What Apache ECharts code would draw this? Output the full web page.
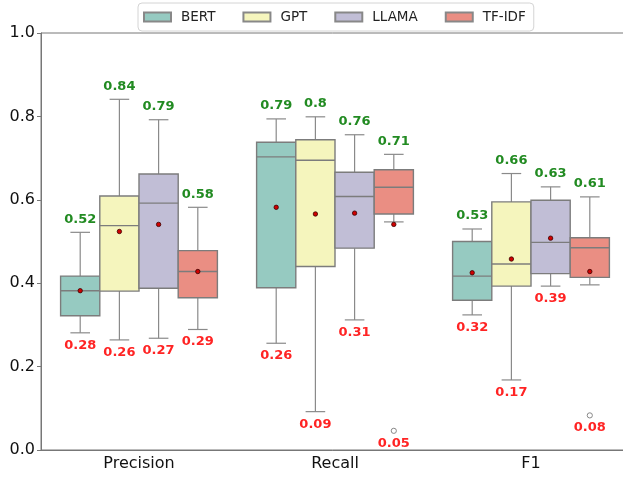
<!DOCTYPE html>
<html>
<head>
<meta charset="utf-8">
<script src="https://cdn.jsdelivr.net/npm/echarts@6/dist/echarts.min.js"></script>
<style>html,body{margin:0;padding:0;background:#fff;}#c{width:623px;height:477px;}</style>
</head>
<body>
<div id="c"></div>
<script>
var categories = ['Precision', 'Recall', 'F1'];
var models = ['BERT', 'GPT', 'LLAMA', 'TF-IDF'];
var colors = ['#96cac1', '#f5f5bd', '#c1bed6', '#ea8e83'];
var yTicks = [0, 0.2, 0.4, 0.6, 0.8, 1.0];

// per model, per category: [Precision, Recall, F1]
var lowerWhisker = {
  'BERT':   [0.281, 0.256, 0.324],
  'GPT':    [0.264, 0.092, 0.168],
  'LLAMA':  [0.268, 0.312, 0.393],
  'TF-IDF': [0.289, 0.547, 0.396]
};
var q1 = {
  'BERT':   [0.322, 0.389, 0.359],
  'GPT':    [0.381, 0.440, 0.393],
  'LLAMA':  [0.388, 0.484, 0.423],
  'TF-IDF': [0.365, 0.566, 0.414]
};
var median = {
  'BERT':   [0.382, 0.703, 0.417],
  'GPT':    [0.538, 0.695, 0.446],
  'LLAMA':  [0.592, 0.608, 0.498],
  'TF-IDF': [0.428, 0.630, 0.485]
};
var q3 = {
  'BERT':   [0.417, 0.738, 0.500],
  'GPT':    [0.609, 0.744, 0.595],
  'LLAMA':  [0.662, 0.666, 0.599],
  'TF-IDF': [0.478, 0.672, 0.509]
};
var upperWhisker = {
  'BERT':   [0.522, 0.794, 0.530],
  'GPT':    [0.841, 0.799, 0.663],
  'LLAMA':  [0.792, 0.756, 0.631],
  'TF-IDF': [0.582, 0.709, 0.607]
};
var means = {
  'BERT':   [0.382, 0.582, 0.425],
  'GPT':    [0.524, 0.566, 0.458],
  'LLAMA':  [0.541, 0.568, 0.508],
  'TF-IDF': [0.428, 0.541, 0.428]
};
var outliers = {
  'BERT':   [null, null, null],
  'GPT':    [null, null, null],
  'LLAMA':  [null, null, null],
  'TF-IDF': [null, 0.046, 0.083]
};

var FONT = 'DejaVu Sans';
var LINE = '#8a8a8a';
var EDGE = '#7c7c7c';

function fmt(v) { return String(Number(v.toFixed(2))); }

function makeRender(si) {
  return function (params, api) {
    var cat = api.value(0);
    var band = api.size([1, 0])[0];
    var bw = band * 0.8 / models.length;
    var cx = api.coord([cat, 0])[0] - band * 0.4 + bw * (si + 0.5);
    function Y(v) { return api.coord([cat, v])[1]; }
    var lo = api.value(1), a = api.value(2), m = api.value(3), b = api.value(4), hi = api.value(5), mean = api.value(6), out = api.value(7);
    var cap = bw / 4;
    var ch = [];
    var ls = { stroke: LINE, lineWidth: 1.2 };
    ch.push({ type: 'line', shape: { x1: cx, y1: Y(lo), x2: cx, y2: Y(a) }, style: ls });
    ch.push({ type: 'line', shape: { x1: cx, y1: Y(b), x2: cx, y2: Y(hi) }, style: ls });
    ch.push({ type: 'line', shape: { x1: cx - cap, y1: Y(lo), x2: cx + cap, y2: Y(lo) }, style: ls });
    ch.push({ type: 'line', shape: { x1: cx - cap, y1: Y(hi), x2: cx + cap, y2: Y(hi) }, style: ls });
    ch.push({ type: 'rect', shape: { x: cx - bw / 2, y: Y(b), width: bw, height: Y(a) - Y(b) },
      style: { fill: colors[si], stroke: EDGE, lineWidth: 1.4 } });
    ch.push({ type: 'line', shape: { x1: cx - bw / 2, y1: Y(m), x2: cx + bw / 2, y2: Y(m) }, style: { stroke: EDGE, lineWidth: 1.4 } });
    ch.push({ type: 'circle', shape: { cx: cx, cy: Y(mean), r: 2.2 }, style: { fill: '#d00000', stroke: '#3a0000', lineWidth: 0.8 } });
    var minVal = lo;
    if (!isNaN(out)) {
      ch.push({ type: 'circle', shape: { cx: cx, cy: Y(out), r: 2.6 }, style: { fill: '#fff', stroke: '#888', lineWidth: 1 } });
      minVal = Math.min(lo, out);
    }
    ch.push({ type: 'text', x: cx, y: Y(hi) - 13, style: { text: fmt(hi), fill: '#228b22', font: 'bold 13px ' + FONT, align: 'center', verticalAlign: 'middle' } });
    ch.push({ type: 'text', x: cx, y: Y(minVal) + 12.5, style: { text: fmt(minVal), fill: '#ff2424', font: 'bold 13px ' + FONT, align: 'center', verticalAlign: 'middle' } });
    return { type: 'group', children: ch };
  };
}

var series = models.map(function (name, si) {
  var data = categories.map(function (c, ci) {
    var o = outliers[name][ci];
    return [ci, lowerWhisker[name][ci], q1[name][ci], median[name][ci], q3[name][ci], upperWhisker[name][ci], means[name][ci], o == null ? '-' : o];
  });
  return {
    type: 'custom',
    name: name,
    renderItem: makeRender(si),
    itemStyle: { color: colors[si], borderColor: '#888', borderWidth: 1 },
    encode: { x: 0, y: [1, 2, 3, 4, 5] },
    data: data,
    silent: true,
    animation: false
  };
});

var chart = echarts.init(document.getElementById('c'));
chart.setOption({
  animation: false,
  backgroundColor: '#fff',
  grid: { left: 41, top: 33, width: 588, height: 417, outerBoundsMode: 'none', containLabel: false,
    show: true, borderColor: '#777', borderWidth: 1, backgroundColor: 'transparent' },
  legend: {
    data: models,
    left: 138, top: 3,
    icon: 'rect',
    itemWidth: 27, itemHeight: 9, itemGap: 27,
    padding: [7, 8, 7, 5],
    borderColor: '#d4d4d4', borderWidth: 1, borderRadius: 4,
    backgroundColor: '#fff',
    textStyle: { fontFamily: FONT, fontSize: 13.5, color: '#222', padding: [0, 0, 0, 5] }
  },
  xAxis: {
    type: 'category',
    data: categories,
    boundaryGap: true,
    axisLine: { lineStyle: { color: '#777', width: 1 } },
    axisTick: { alignWithLabel: true, length: 4, lineStyle: { color: '#777' } },
    axisLabel: { fontFamily: FONT, fontSize: 16, color: '#111', margin: 6 },
    splitLine: { show: false }
  },
  yAxis: {
    type: 'value',
    min: 0, max: 1, interval: 0.2,
    axisLine: { show: true, lineStyle: { color: '#777', width: 1 } },
    axisTick: { show: true, length: 4, lineStyle: { color: '#777' } },
    axisLabel: { fontFamily: FONT, fontSize: 16, color: '#111', margin: 6,
      formatter: function (v) { return v.toFixed(1); } },
    splitLine: { show: false }
  },
  series: series
});
</script>
</body>
</html>
